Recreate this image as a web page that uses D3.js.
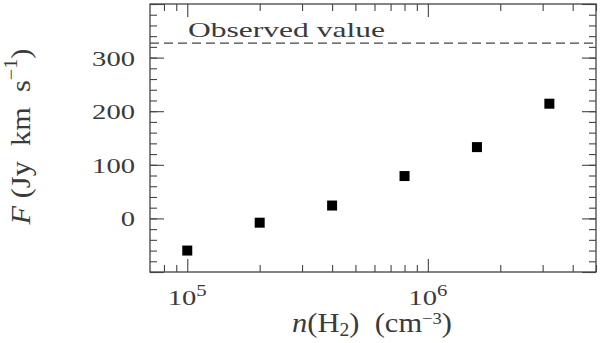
<!DOCTYPE html>
<html>
<head>
<meta charset="utf-8">
<script src="https://cdn.jsdelivr.net/npm/d3@7"></script>
<style>
  body { margin: 0; background: #fff; }
  text { font-family: "Liberation Serif", "Times New Roman", serif; fill: #3a3a3a; }
</style>
</head>
<body>
<svg id="chart" width="600" height="343"></svg>
<script>
// model runs: density n(H2) vs integrated flux
var densities = [1e5, 2e5, 4e5, 8e5, 1.6e6, 3.2e6];
var fluxes = [-60, -8, 24, 79, 133, 214];
var observedFlux = 327;
var observedLabel = "Observed value";

var yMajor = [-100, 0, 100, 200, 300, 400];
var yLabels = [0, 100, 200, 300];
var yMinor = d3.range(-100, 401, 20);
var xMajor = [1e5, 1e6];
var xLabelExp = ["5", "6"];
var xMinor = [8e4, 9e4, 2e5, 3e5, 4e5, 5e5, 6e5, 7e5, 8e5, 9e5, 2e6, 3e6, 4e6, 5e6];

var margin = {top: 4, right: 4, bottom: 71, left: 150};
var width = 600 - margin.left - margin.right;
var height = 343 - margin.top - margin.bottom;
var stretch = 1.3;
var tickCol = '#444';

var svg = d3.select('#chart');
var g = svg.append('g')
           .attr('transform', 'translate(' + margin.left + ',' + margin.top + ')');

var x = d3.scaleLog().domain([7e4, 5e6]).range([0, width]);
var y = d3.scaleLinear().domain([-100, 400]).range([height, 0]);

// inward ticks on all four sides
function ticks(axis, tx, ty) {
  var a = g.append('g')
           .attr('transform', 'translate(' + tx + ',' + ty + ')')
           .call(axis);
  a.select('.domain').remove();
  a.selectAll('line').attr('stroke', tickCol).attr('stroke-width', 1.1);
  return a;
}
ticks(d3.axisLeft(y).tickValues(yMinor).tickSize(-7).tickFormat(''), 0, 0);
ticks(d3.axisRight(y).tickValues(yMinor).tickSize(-7).tickFormat(''), width, 0);
ticks(d3.axisRight(y).tickValues(yMajor).tickSize(-14).tickFormat(''), width, 0);
ticks(d3.axisBottom(x).tickValues(xMinor).tickSize(-7).tickFormat(''), 0, height);
ticks(d3.axisBottom(x).tickValues(xMajor).tickSize(-13).tickFormat(''), 0, height);
ticks(d3.axisTop(x).tickValues(xMinor).tickSize(-7).tickFormat(''), 0, 0);
ticks(d3.axisTop(x).tickValues(xMajor).tickSize(-13).tickFormat(''), 0, 0);

var yAxis = ticks(d3.axisLeft(y).tickValues(yMajor).tickSize(-14).tickPadding(15)
                    .tickFormat(function(d) { return yLabels.indexOf(d) >= 0 ? d : ''; }), 0, 0);
yAxis.attr('font-family', null).attr('font-size', null);
yAxis.selectAll('text')
     .attr('x', 0)
     .attr('dy', '0.34em')
     .attr('transform', 'translate(-15,0) scale(' + stretch + ',1)')
     .style('font-size', '22px')
     .attr('fill', null);

// decade labels 10^n
var xl = g.append('g').selectAll('text')
          .data(xMajor)
          .enter()
          .append('text')
          .attr('text-anchor', 'middle')
          .attr('transform', function(d) {
            return 'translate(' + x(d) + ',' + (height + 33) + ') scale(' + stretch + ',1)';
          })
          .style('font-size', '22px');
xl.append('tspan').text('10');
xl.append('tspan')
  .attr('dy', -9)
  .style('font-size', '16px')
  .text(function(d, i) { return xLabelExp[i]; });

// frame
g.append('rect')
 .attr('width', width)
 .attr('height', height)
 .attr('fill', 'none')
 .attr('stroke', tickCol)
 .attr('stroke-width', 1.3);

// observed value line
g.append('line')
 .attr('x1', 0)
 .attr('x2', width)
 .attr('y1', y(observedFlux))
 .attr('y2', y(observedFlux))
 .attr('stroke', '#444')
 .attr('stroke-width', 1.1)
 .attr('stroke-dasharray', '9,5');

function fit(sel, target) {
  var w = sel.node().getBBox().width;
  return target / w;
}

var obs = g.append('text')
           .attr('x', 0)
           .attr('y', 0)
           .style('font-size', '22px')
           .text(observedLabel);
obs.attr('transform', 'translate(38,' + (y(observedFlux) - 6) + ') scale(' + fit(obs, 197) + ',1)');

// x title
var xt = svg.append('text')
            .attr('text-anchor', 'middle')
            .style('font-size', '28px');
xt.append('tspan').style('font-style', 'italic').text('n');
xt.append('tspan').text('(H');
xt.append('tspan').attr('dy', 4).style('font-size', '18px').text('2');
xt.append('tspan').attr('dy', -4).text(')\u00a0\u00a0(cm');
xt.append('tspan').attr('dy', -8).style('font-size', '17px').text('\u22123');
xt.append('tspan').attr('dy', 8).text(')');
xt.attr('transform', 'translate(372,332) scale(' + fit(xt, 160) + ',1)');

// y title
var yt = svg.append('text')
            .attr('text-anchor', 'middle')
            .style('font-size', '27px');
yt.append('tspan').style('font-style', 'italic').text('F');
yt.append('tspan').text('\u00a0(Jy\u00a0\u00a0km\u00a0\u00a0s');
yt.append('tspan').attr('dy', -13).style('font-size', '18px').text('\u22121');
yt.append('tspan').attr('dy', 13).text(')');
yt.attr('transform', 'translate(30,136.5) rotate(-90) scale(' + fit(yt, 177) + ',1)');

// model points
g.append('g').selectAll('rect')
 .data(densities)
 .enter()
 .append('rect')
 .attr('x', function(d) { return x(d) - 5; })
 .attr('y', function(d, i) { return y(fluxes[i]) - 5; })
 .attr('width', 10)
 .attr('height', 10)
 .attr('fill', '#000');
</script>
</body>
</html>
